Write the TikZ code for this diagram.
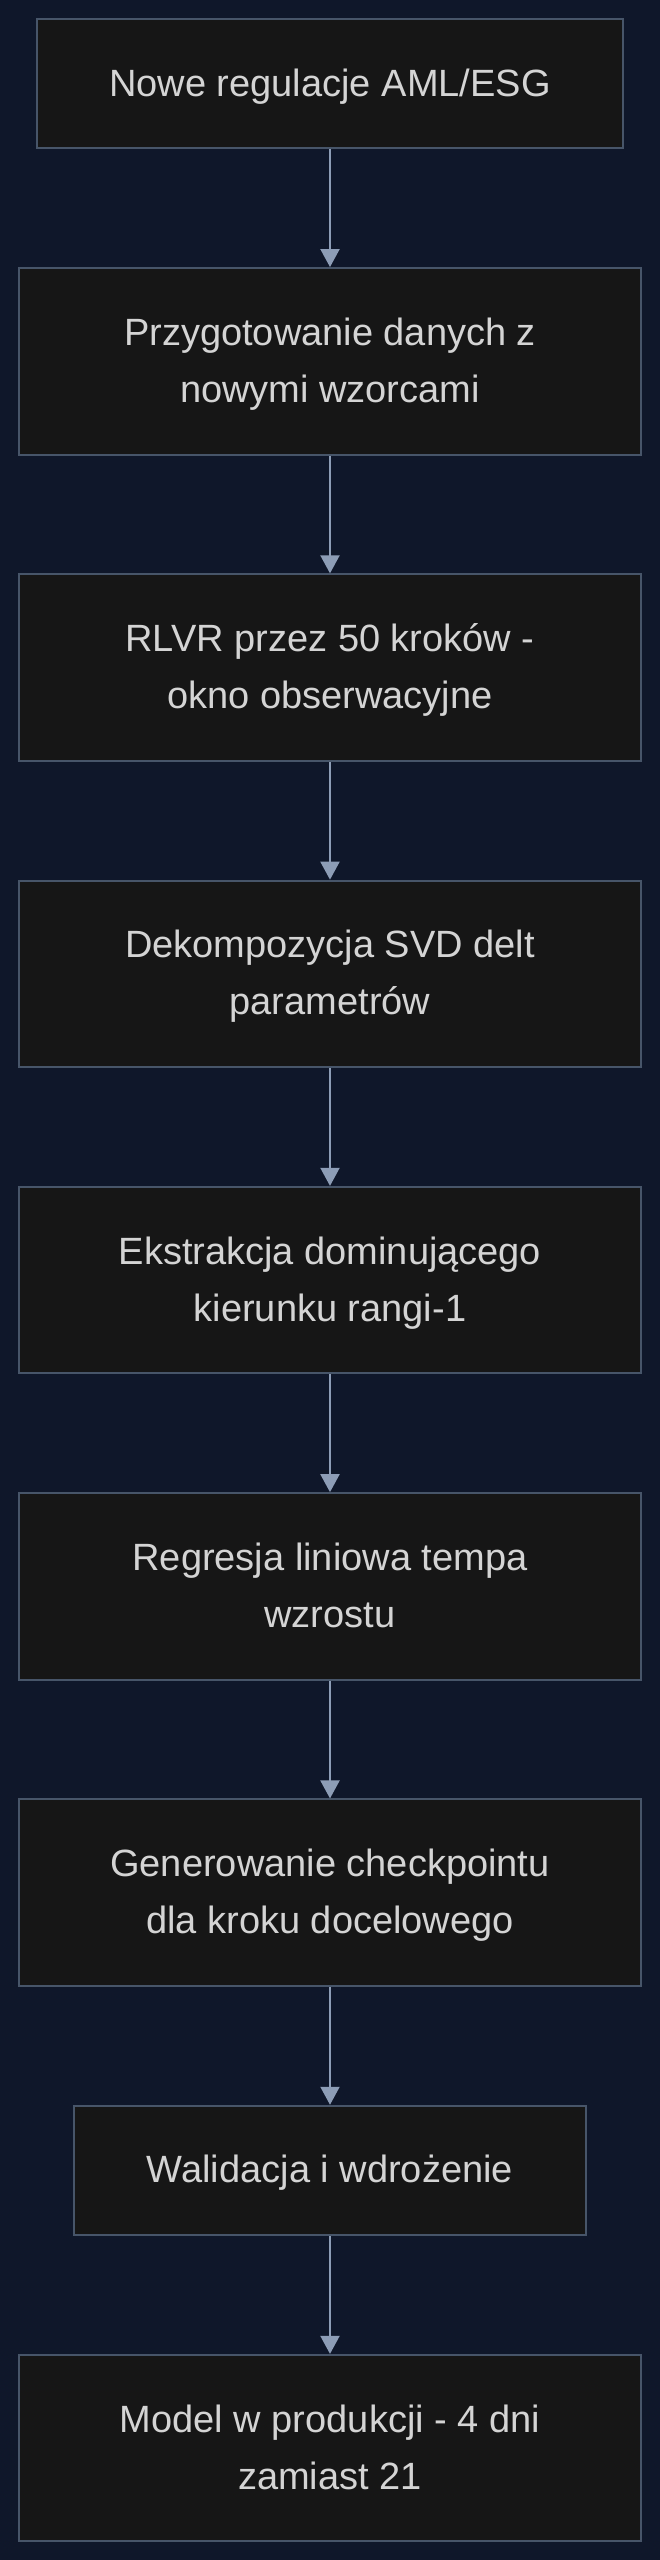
\documentclass[tikz,border=0pt]{standalone}
\usepackage{fontspec}
\setmainfont{Liberation Sans}
\usetikzlibrary{arrows.meta}
\definecolor{bgc}{HTML}{0F172A}
\definecolor{boxfill}{HTML}{161616}
\definecolor{boxline}{HTML}{475569}
\definecolor{arrowc}{HTML}{8D9DB6}
\definecolor{txtc}{HTML}{D4D4D4}
\newcommand{\lst}{\rule[-16pt]{0pt}{57pt}}
\tikzset{
  stepbox/.style={draw=boxline, line width=2pt, fill=boxfill, rectangle, inner sep=0pt,
    minimum width=622pt, text=txtc, align=center,
    font=\fontsize{38}{57}\selectfont},
  onel/.style={minimum height=129.3pt},
  twol/.style={minimum height=186.5pt},
  flow/.style={draw=arrowc, line width=2pt, -{Triangle[width=19pt,length=18pt,fill=arrowc]}}
}
\begin{document}
\begin{tikzpicture}[x=1pt,y=-1pt]
\fill[bgc] (0,0) rectangle (660,2560);
\useasboundingbox (0,0) rectangle (660,2560);
\node[stepbox,onel,minimum width=586pt] (n1) at (330,83.5) {\lst Nowe regulacje AML/ESG};
\node[stepbox,twol] (n2) at (330,361.3) {\lst Przygotowanie danych z\\\lst nowymi wzorcami};
\node[stepbox,twol] (n3) at (330,667.6) {\lst RLVR przez 50 kroków -\\\lst okno obserwacyjne};
\node[stepbox,twol] (n4) at (330,973.9) {\lst Dekompozycja SVD delt\\\lst parametrów};
\node[stepbox,twol] (n5) at (330,1280.1) {\lst Ekstrakcja dominującego\\\lst kierunku rangi-1};
\node[stepbox,twol] (n6) at (330,1586.4) {\lst Regresja liniowa tempa\\\lst wzrostu};
\node[stepbox,twol] (n7) at (330,1892.7) {\lst Generowanie checkpointu\\\lst dla kroku docelowego};
\node[stepbox,onel,minimum width=512pt] (n8) at (330,2170.4) {\lst Walidacja i wdrożenie};
\node[stepbox,twol] (n9) at (330,2448.1) {\lst Model w produkcji - 4 dni\\\lst zamiast 21};
\draw[flow] (n1.south) -- (n2.north);
\draw[flow] (n2.south) -- (n3.north);
\draw[flow] (n3.south) -- (n4.north);
\draw[flow] (n4.south) -- (n5.north);
\draw[flow] (n5.south) -- (n6.north);
\draw[flow] (n6.south) -- (n7.north);
\draw[flow] (n7.south) -- (n8.north);
\draw[flow] (n8.south) -- (n9.north);
\end{tikzpicture}
\end{document}
